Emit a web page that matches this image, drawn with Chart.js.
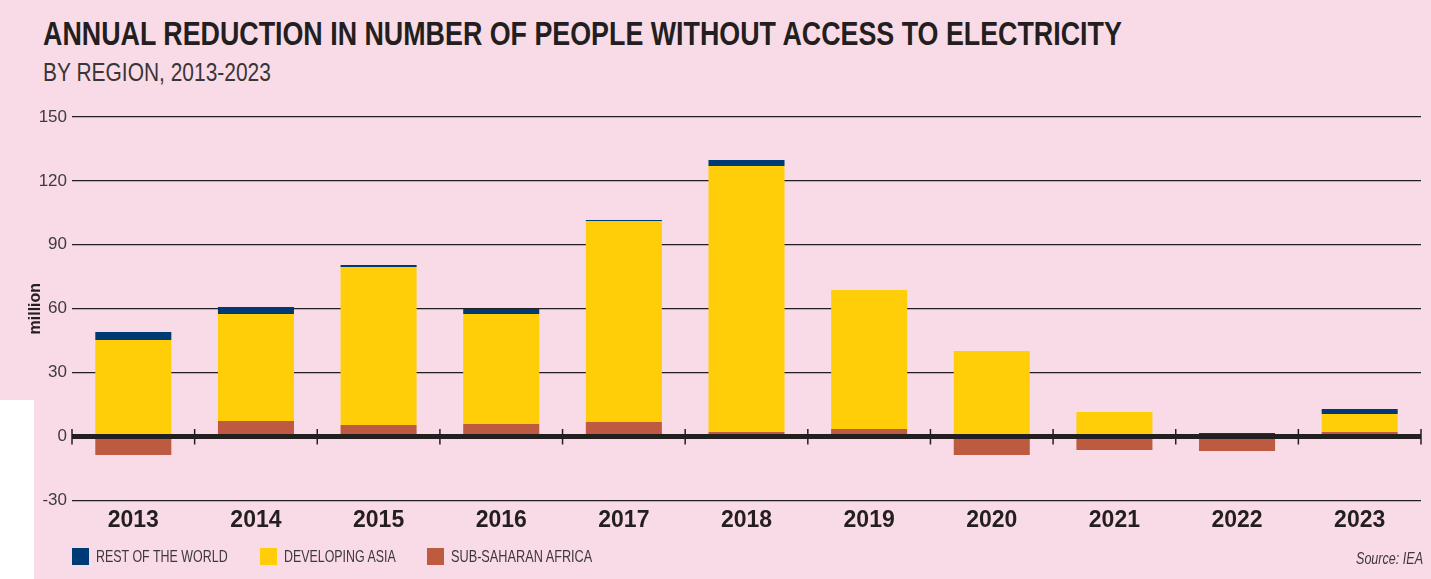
<!DOCTYPE html>
<html>
<head>
<meta charset="utf-8">
<title>Annual reduction in number of people without access to electricity</title>
<script src="https://cdn.jsdelivr.net/npm/chart.js@4.4.1/dist/chart.umd.min.js"></script>
<style>
  html, body { margin: 0; padding: 0; }
  body {
    width: 1431px; height: 579px; position: relative; overflow: hidden;
    background: #f9dbe7;
    font-family: "Liberation Sans", Arial, sans-serif;
  }
  #corner { position: absolute; left: 0; top: 400px; width: 34px; height: 179px; background: #ffffff; }
  #plot { position: absolute; left: 0; top: 0; width: 1431px; height: 579px; }
  .fit { position: absolute; white-space: nowrap; line-height: 1; transform-origin: 0 0; }
  #title { left: 43px; top: 16.7px; font-size: 33px; font-weight: bold; color: #231f20; }
  #subtitle { left: 43px; top: 59.7px; font-size: 25px; color: #3a3536; }
  .key { position: absolute; top: 548px; width: 17px; height: 17px; }
  .keytext { top: 548px; font-size: 16.5px; color: #3d393a; }
  #source { top: 550px; font-size: 16.5px; font-style: italic; color: #3d393a; }
</style>
</head>
<body>
<div id="corner"></div>
<div id="title" class="fit" data-w="1079">ANNUAL REDUCTION IN NUMBER OF PEOPLE WITHOUT ACCESS TO ELECTRICITY</div>
<div id="subtitle" class="fit" data-w="228">BY REGION, 2013-2023</div>
<canvas id="plot" width="1431" height="579"></canvas>
<div id="legend"></div>
<div id="source" class="fit" data-w="67" data-right="1423">Source: IEA</div>

<script>
// Years shown on the horizontal axis
const years = ['2013', '2014', '2015', '2016', '2017', '2018', '2019', '2020', '2021', '2022', '2023'];

// Annual reduction in people without electricity access, million
const subSaharanAfrica = [-8.7, 7.3, 5.4, 5.9, 6.8, 2.1, 3.5, -8.7, -6.3, -6.8, 2.1];
const developingAsia   = [45.3, 50.2, 74.2, 51.6, 94.3, 124.9, 65.3, 40.1, 11.5, 0.0, 8.5];
const restOfWorld      = [3.8, 3.3, 0.9, 2.4, 0.5, 2.8, 0.0, 0.0, 0.0, 1.6, 2.3];

// Value axis ticks
const yTicks = [-30, 0, 30, 60, 90, 120, 150];

const INK = '#231f20';
const COLORS = { ssa: '#bd5a3f', asia: '#ffce08', row: '#003a75' };
const FAMILY = '"Liberation Sans", Arial, sans-serif';

// Legend entries, in the order they are listed under the chart
const legendItems = [
  { label: 'REST OF THE WORLD', color: COLORS.row, x: 72, w: 132 },
  { label: 'DEVELOPING ASIA', color: COLORS.asia, x: 260, w: 112 },
  { label: 'SUB-SAHARAN AFRICA', color: COLORS.ssa, x: 427, w: 141 }
];

const legend = document.getElementById('legend');
legendItems.forEach(item => {
  const sw = document.createElement('div');
  sw.className = 'key';
  sw.style.left = item.x + 'px';
  sw.style.background = item.color;
  legend.appendChild(sw);
  const tx = document.createElement('div');
  tx.className = 'fit keytext';
  tx.style.left = (item.x + 24) + 'px';
  tx.dataset.w = item.w;
  tx.textContent = item.label;
  legend.appendChild(tx);
});

// Squeeze each caption horizontally to its set width
function fitText() {
  document.querySelectorAll('.fit').forEach(el => {
    el.style.transform = 'none';
    const natural = el.scrollWidth;
    const target = parseFloat(el.dataset.w);
    if (el.dataset.right) el.style.left = (parseFloat(el.dataset.right) - target) + 'px';
    el.style.transform = 'scaleX(' + (target / natural) + ')';
  });
}

// Heavy zero baseline with category boundary ticks, drawn above the bars
const zeroAxis = {
  id: 'zeroAxis',
  afterDatasetsDraw(chart) {
    const { ctx, chartArea, scales } = chart;
    const x = scales.x, y = scales.y;
    const y0 = y.getPixelForValue(0);
    ctx.save();
    ctx.strokeStyle = INK;
    ctx.lineWidth = 5;
    ctx.beginPath();
    ctx.moveTo(chartArea.left, y0);
    ctx.lineTo(chartArea.right, y0);
    ctx.stroke();
    ctx.lineWidth = 1.5;
    const n = years.length;
    for (let i = 0; i <= n; i++) {
      let px;
      if (i === 0) px = chartArea.left;
      else if (i === n) px = chartArea.right;
      else px = (x.getPixelForValue(i - 1) + x.getPixelForValue(i)) / 2;
      ctx.beginPath();
      ctx.moveTo(px, y0 - 7.5);
      ctx.lineTo(px, y0 + 8);
      ctx.stroke();
    }
    ctx.restore();
  }
};

const barStyle = { categoryPercentage: 1, barPercentage: 0.62, borderWidth: 0, stack: 'all' };

new Chart(document.getElementById('plot'), {
  type: 'bar',
  data: {
    labels: years,
    datasets: [
      Object.assign({ label: 'SUB-SAHARAN AFRICA', data: subSaharanAfrica, backgroundColor: COLORS.ssa }, barStyle),
      Object.assign({ label: 'DEVELOPING ASIA', data: developingAsia, backgroundColor: COLORS.asia }, barStyle),
      Object.assign({ label: 'REST OF THE WORLD', data: restOfWorld, backgroundColor: COLORS.row }, barStyle)
    ]
  },
  options: {
    responsive: false,
    animation: false,
    layout: { padding: { top: 117, right: 10, bottom: 0, left: 0 } },
    plugins: {
      legend: { display: false },
      tooltip: { enabled: false },
      title: { display: false }
    },
    scales: {
      x: {
        stacked: true,
        grid: { display: false },
        border: { display: false },
        ticks: {
          padding: -1.5,
          color: INK,
          font: { family: FAMILY, size: 23, weight: 'bold' }
        },
        afterFit(scale) { scale.height = 78.6; }
      },
      y: {
        stacked: true,
        min: -30,
        max: 150,
        afterBuildTicks(scale) { scale.ticks = yTicks.map(v => ({ value: v })); },
        border: { display: false },
        grid: {
          drawTicks: false,
          lineWidth: 1.3,
          color: ctx => (ctx.tick && ctx.tick.value === 0) ? 'rgba(0,0,0,0)' : INK
        },
        ticks: {
          padding: 5,
          color: '#3f3b3c',
          font: { family: FAMILY, size: 17 }
        },
        title: {
          display: true,
          text: 'million',
          color: INK,
          padding: { top: 26, bottom: 0 },
          font: { family: FAMILY, size: 16, weight: 'bold' }
        },
        afterFit(scale) { scale.width = 72; }
      }
    }
  },
  plugins: [zeroAxis]
});

fitText();
if (document.fonts && document.fonts.ready) document.fonts.ready.then(fitText);
</script>
</body>
</html>
